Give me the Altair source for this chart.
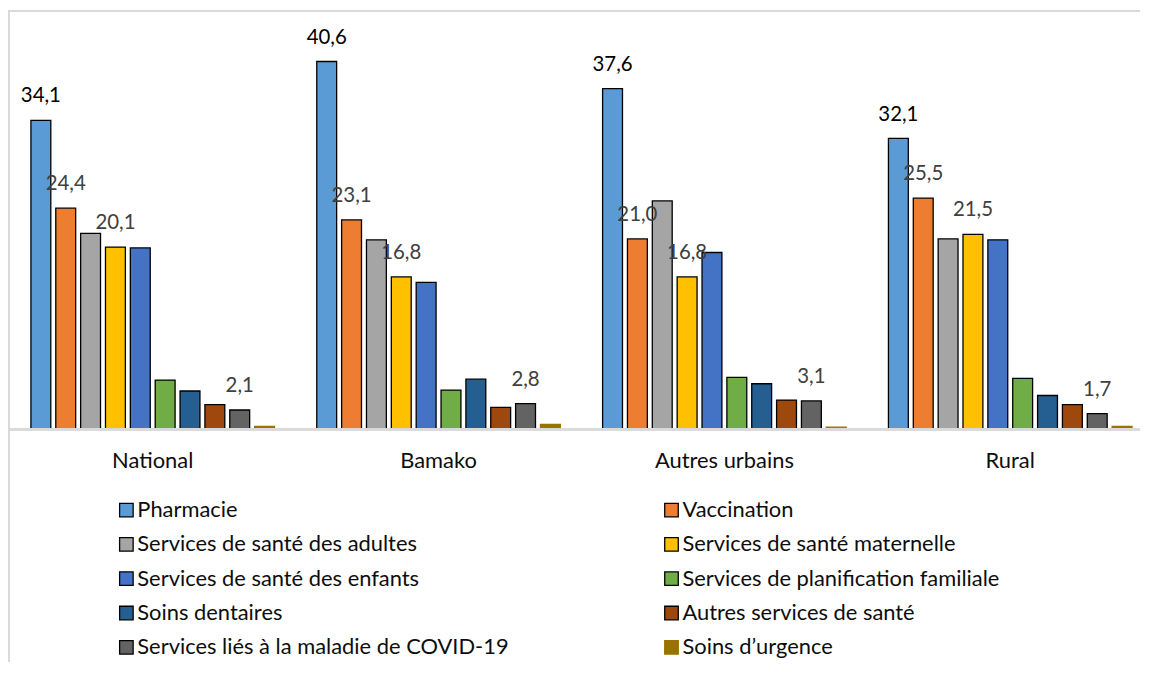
import altair as alt
import pandas as pd

regions = ["National", "Bamako", "Autres urbains", "Rural"]
services = [
    "Pharmacie",
    "Vaccination",
    "Services de santé des adultes",
    "Services de santé maternelle",
    "Services de santé des enfants",
    "Services de planification familiale",
    "Soins dentaires",
    "Autres services de santé",
    "Services liés à la maladie de COVID-19",
    "Soins d’urgence",
]
colors = ["#5B9BD5", "#ED7D31", "#A5A5A5", "#FFC000", "#4472C4",
          "#70AD47", "#255E91", "#9E480E", "#636363", "#997300"]
strokes = ["#000000"] * 9 + ["#997300"]

national = [34.1, 24.4, 21.6, 20.1, 20.0, 5.4, 4.2, 2.7, 2.1, 0.3]
bamako = [40.6, 23.1, 20.9, 16.8, 16.2, 4.3, 5.5, 2.4, 2.8, 0.5]
autres_urbains = [37.6, 21.0, 25.2, 16.8, 19.5, 5.7, 5.0, 3.2, 3.1, 0.2]
rural = [32.1, 25.5, 21.0, 21.5, 20.9, 5.6, 3.7, 2.7, 1.7, 0.3]

labelled = ["Pharmacie", "Vaccination", "Services de santé maternelle",
            "Services liés à la maladie de COVID-19"]

rows = []
for reg, vals in zip(regions, [national, bamako, autres_urbains, rural]):
    for s, v in zip(services, vals):
        rows.append({
            "region": reg,
            "service": s,
            "value": v,
            "lab": (f"{v:.1f}".replace(".", ",") if s in labelled else ""),
            "labcol": ("#000000" if s == "Pharmacie" else "#404040"),
        })
df = pd.DataFrame(rows)

W = 1131
H = 409.5
FONT = "Lato"

xaxis = alt.Axis(title=None, domain=False, ticks=False, grid=False, labelAngle=0,
                 labelFontSize=22, labelFont=FONT, labelColor="#0d0d0d",
                 labelPadding=22)
xscale = alt.Scale(paddingInner=0.1, paddingOuter=0.018)
xenc = alt.X("region:N", sort=regions, scale=xscale, axis=xaxis)
xoff = alt.XOffset("service:N", sort=services,
                   scale=alt.Scale(paddingInner=0.2, paddingOuter=0.275))
yenc = alt.Y("value:Q", scale=alt.Scale(domain=[0, 45], nice=False, zero=True),
             axis=None)

base = alt.Chart(df)

bars = base.mark_bar(strokeWidth=1.3).encode(
    x=xenc,
    xOffset=xoff,
    y=yenc,
    color=alt.Color("service:N", title=None,
                    scale=alt.Scale(domain=services, range=colors),
                    legend=alt.Legend(orient="none", legendX=97, legendY=480,
                                      columns=2, direction="horizontal",
                                      gridAlign="all", columnPadding=152,
                                      rowPadding=12.5, padding=0,
                                      symbolType="square", symbolSize=185,
                                      symbolStrokeWidth=1.3,
                                      symbolOffset=0, labelOffset=0,
                                      labelFont=FONT, labelFontSize=22,
                                      labelColor="#0d0d0d", labelLimit=700)),
    stroke=alt.Stroke("service:N", title=None,
                      scale=alt.Scale(domain=services, range=strokes)),
)

labels = base.transform_filter(alt.datum.lab != "").mark_text(
    baseline="alphabetic", align="center", dy=-18, fontSize=20.5, font=FONT
).encode(
    x=xenc,
    xOffset=xoff,
    y=yenc,
    text="lab:N",
    color=alt.Color("labcol:N", scale=None),
)

baseline = base.mark_rule(color="#d9d9d9", strokeWidth=1.5).encode(
    x=alt.value(-9), x2=alt.value(W - 4), y=alt.value(H + 0.5)
)
frame_top = base.mark_rule(color="#d9d9d9", strokeWidth=1.5).encode(
    x=alt.value(-10.5), x2=alt.value(W - 4), y=alt.value(-11)
)
frame_left = base.mark_rule(color="#d9d9d9", strokeWidth=1.5).encode(
    x=alt.value(-10.5), y=alt.value(-11), y2=alt.value(H + 250)
)

chart = alt.layer(bars, baseline, labels, frame_top, frame_left).properties(
    width=W, height=H,
    autosize=alt.AutoSizeParams(type="none"),
    padding={"left": 11, "top": 12, "right": 0, "bottom": 232},
).configure_view(strokeOpacity=0, strokeWidth=0, fill="#ffffff")

chart.save("out.html", embed_options={"renderer": "svg", "actions": False})
